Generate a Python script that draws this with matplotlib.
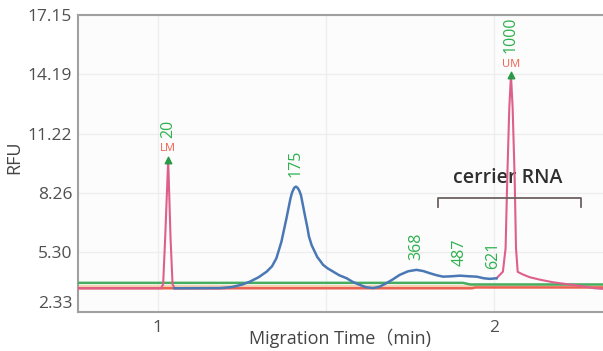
import numpy as np
import matplotlib
matplotlib.use("Agg")
import matplotlib.pyplot as plt

plt.rcParams['font.family'] = ['Open Sans', 'Noto Sans CJK SC', 'DejaVu Sans']

# ── Traces (migration time in min, RFU) ───────────────────────────────────────
blue_x = [1.05, 1.185, 1.22, 1.25, 1.274, 1.30, 1.324, 1.34, 1.353, 1.368,
          1.383, 1.395, 1.400, 1.406, 1.411, 1.416, 1.421, 1.426, 1.4375, 1.445,
          1.450, 1.458, 1.467, 1.475, 1.482, 1.492, 1.505, 1.522, 1.54, 1.562,
          1.58, 1.601, 1.62, 1.641, 1.66, 1.681, 1.70, 1.720, 1.745, 1.770,
          1.79, 1.810, 1.83, 1.849, 1.875, 1.899, 1.925, 1.949, 1.97, 1.988,
          2.008]
blue_y = [3.50, 3.51, 3.56, 3.68, 3.83, 4.05, 4.33, 4.60, 5.00, 5.83,
          7.00, 8.00, 8.30, 8.52, 8.58, 8.52, 8.38, 8.16, 7.17, 6.55,
          6.08, 5.65, 5.33, 5.05, 4.90, 4.67, 4.50, 4.33, 4.15, 4.00,
          3.82, 3.67, 3.55, 3.51, 3.58, 3.76, 3.95, 4.17, 4.35, 4.42,
          4.36, 4.25, 4.15, 4.08, 4.10, 4.13, 4.10, 4.08, 4.00, 3.97,
          4.00]

pink_x = [0.762, 1.010, 1.016, 1.022, 1.031, 1.038, 1.044, 1.050, 1.20, np.nan,
          2.008, 2.027, 2.035, 2.040, 2.046, 2.051, 2.056, 2.062, 2.066, 2.071,
          2.085, 2.107, 2.140, 2.176, 2.220, 2.256, 2.300, 2.341]
pink_y = [3.50, 3.50, 3.70, 6.00, 9.91, 6.00, 3.70, 3.50, 3.50, np.nan,
          4.00, 4.33, 5.50, 9.00, 12.50, 14.15, 12.50, 9.00, 5.50, 4.32,
          4.20, 4.05, 3.92, 3.80, 3.70, 3.62, 3.50, 3.45]

green_x = [0.762, 1.908, 1.930, 2.341]
green_y = [3.77, 3.77, 3.69, 3.69]

red_x = [0.762, 1.935, 1.945, 2.341]
red_y = [3.50, 3.50, 3.54, 3.54]

peach_x = [0.762, 2.341]
peach_y = [3.62, 3.62]

# ── Peak labels ───────────────────────────────────────────────────────────────
size_x = [1.411, 1.770, 1.899, 1.997]
size_y = [8.58, 4.42, 4.13, 3.97]
size_labels = ['175', '368', '487', '621']

marker_x = [1.031, 2.051]
marker_y = [9.91, 14.15]
marker_names = ['LM', 'UM']
marker_sizes = ['20', '1000']

yticks = [2.33, 5.30, 8.26, 11.22, 14.19, 17.15]
xticks = [1, 2]

COL_BLUE = '#4a78b5'
COL_PINK = '#de5f8c'
COL_GREEN = '#47ad5f'
COL_RED = '#ea6352'
COL_TXT_GREEN = '#2fb04f'
COL_TXT_RED = '#f0604d'

fig = plt.figure(figsize=(6.03, 3.51), dpi=100)
ax = fig.add_axes([0.129, 0.112, 0.88, 0.845])
ax.set_facecolor('#fbfcfb')

ax.set_xlim(0.762, 2.341)
ax.set_ylim(2.33, 17.15)

# grid
for y in yticks:
    ax.axhline(y, color='#eeeeee', lw=1, zorder=0)
for x in [1.0, 1.5, 2.0]:
    ax.axvline(x, color='#eeeeee', lw=1, zorder=0)

ax.plot(peach_x, peach_y, color='#f7cfb0', lw=2.0, zorder=2)
ax.plot(red_x, red_y, color=COL_RED, lw=1.8, zorder=3)
ax.plot(green_x, green_y, color=COL_GREEN, lw=1.8, zorder=3)
ax.plot(pink_x, pink_y, color=COL_PINK, lw=1.5, zorder=4)
ax.plot(blue_x, blue_y, color=COL_BLUE, lw=1.8, zorder=5)

ax.scatter(marker_x, marker_y, marker='^', s=22, color='#2a9a48', zorder=6)
for x, y, name, lab in zip(marker_x, marker_y, marker_names, marker_sizes):
    ax.annotate(name, (x, y), xytext=(0, 11), textcoords='offset pixels',
                ha='center', va='center', fontsize=8, color=COL_TXT_RED)
    ax.annotate(lab, (x, y), xytext=(0, 22), textcoords='offset pixels',
                ha='center', va='bottom', rotation=90, fontsize=11.5,
                color=COL_TXT_GREEN)

for x, y, lab in zip(size_x, size_y, size_labels):
    ax.annotate(lab, (x, y), xytext=(0, 10), textcoords='offset pixels',
                ha='center', va='bottom', rotation=90, fontsize=11.5,
                color=COL_TXT_GREEN)

# carrier RNA bracket
ax.plot([1.833, 1.833, 2.259, 2.259], [7.56, 8.01, 8.01, 7.56],
        color='#6e6262', lw=1.3, zorder=4)
ax.text(2.040, 9.0, 'cerrier RNA', ha='center', va='center', fontsize=14,
        fontweight='semibold', color='#2f2f2f')

# axes styling
for side in ['left', 'bottom', 'top']:
    ax.spines[side].set_color('#a0a0a0')
    ax.spines[side].set_linewidth(1.5)
ax.spines['right'].set_visible(False)

ax.set_yticks(yticks)
ax.set_yticklabels([f'{v:.2f}' for v in yticks])
ax.set_xticks(xticks)
ax.set_xticklabels([str(v) for v in xticks])
ax.tick_params(length=0, labelsize=12.5, labelcolor='#505050')
ax.tick_params(axis='y', pad=4)
ax.tick_params(axis='x', pad=6)
ax.yaxis.get_major_ticks()[0].label1.set_verticalalignment('bottom')

ax.set_ylabel('RFU', fontsize=13, color='#444444')
ax.yaxis.label.set_verticalalignment('center')
ax.yaxis.set_label_coords(-0.119, 0.52)
ax.set_xlabel('Migration Time\uff08min)', fontsize=13, color='#444444')
ax.xaxis.label.set_verticalalignment('center')
ax.xaxis.set_label_coords(0.494, -0.088)

fig.savefig('out.png', dpi=100)
